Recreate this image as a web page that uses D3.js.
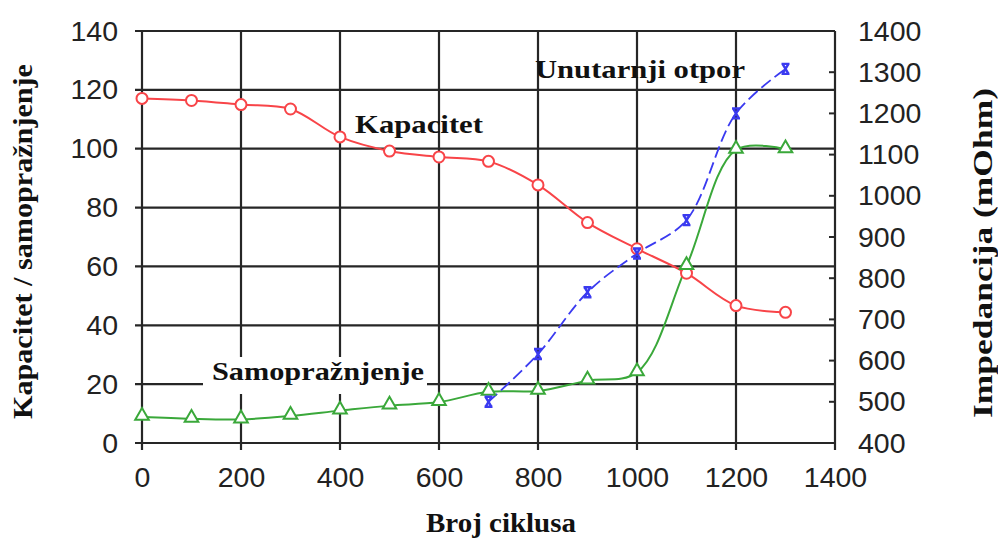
<!DOCTYPE html>
<html>
<head>
<meta charset="utf-8">
<script src="https://cdn.jsdelivr.net/npm/d3@7"></script>
<style>
  html, body { margin: 0; padding: 0; background: #fff; }
  svg { display: block; }
</style>
</head>
<body>
<script>
// ---- data ----
const cycles = [0, 100, 200, 300, 400, 500, 600, 700, 800, 900, 1000, 1100, 1200, 1300];
const kapacitet = [117.1, 116.4, 115.0, 113.5, 104.0, 99.2, 97.2, 95.7, 87.7, 74.9, 66.0, 57.7, 46.7, 44.4];
const samopraznjenje = [8.9, 8.2, 8.0, 9.2, 11.0, 12.7, 13.9, 17.4, 17.7, 21.2, 24.0, 60.1, 99.6, 99.8];
const otporCycles = [700, 800, 900, 1000, 1100, 1200, 1300];
const otpor = [500, 616, 766, 860, 941, 1200, 1308];
const xTicks = [0, 200, 400, 600, 800, 1000, 1200, 1400];
const yLeftTicks = [0, 20, 40, 60, 80, 100, 120, 140];
const yRightTicks = [400, 500, 600, 700, 800, 900, 1000, 1100, 1200, 1300, 1400];
const seriesLabels = { kap: "Kapacitet", samo: "Samopražnjenje", otpor: "Unutarnji otpor" };
const axisTitles = { x: "Broj ciklusa", yl: "Kapacitet / samopražnjenje", yr: "Impedancija (mOhm)" };

// ---- layout ----
const W = 998, H = 540;
const svg = d3.select("body").append("svg").attr("width", W).attr("height", H);

const x = d3.scaleLinear().domain([0, 1400]).range([142, 835]);
const yL = d3.scaleLinear().domain([0, 140]).range([443, 31]);
const yR = d3.scaleLinear().domain([400, 1400]).range([443, 31]);

const gridColor = "#262626";
const tickFont = "'Liberation Sans', Arial, sans-serif";
const serif = "'Liberation Serif', 'Times New Roman', serif";
const fmt = d3.format("d");

// gridlines
const grid = svg.append("g");
grid.selectAll("line.h").data(yLeftTicks).join("line")
  .attr("x1", x(0) - 7).attr("x2", x(1400))
  .attr("y1", d => yL(d)).attr("y2", d => yL(d))
  .attr("stroke", gridColor).attr("stroke-width", 2.2);
grid.selectAll("line.v").data(xTicks).join("line")
  .attr("x1", d => x(d)).attr("x2", d => x(d))
  .attr("y1", yL(140)).attr("y2", yL(0) + 7)
  .attr("stroke", gridColor).attr("stroke-width", 2.2);
// right axis minor ticks (inside)
grid.selectAll("line.r").data(yRightTicks).join("line")
  .attr("x1", x(1400) - 6).attr("x2", x(1400))
  .attr("y1", d => yR(d)).attr("y2", d => yR(d))
  .attr("stroke", gridColor).attr("stroke-width", 2);

// axes (labels only)
function styleAxis(g) {
  g.select(".domain").remove();
  g.selectAll(".tick line").remove();
  g.selectAll("text").attr("font-family", tickFont).attr("font-size", 28.5).attr("fill", "#222");
}
svg.append("g").attr("transform", `translate(${x(0)},0)`)
  .call(d3.axisLeft(yL).tickValues(yLeftTicks).tickFormat(fmt).tickSize(0).tickPadding(24))
  .call(styleAxis);
svg.append("g").attr("transform", `translate(0,${yL(0)})`)
  .call(d3.axisBottom(x).tickValues(xTicks).tickFormat(fmt).tickSize(0).tickPadding(24))
  .call(styleAxis);
svg.append("g").attr("transform", `translate(${x(1400)},0)`)
  .call(d3.axisRight(yR).tickValues(yRightTicks).tickFormat(fmt).tickSize(0).tickPadding(23))
  .call(styleAxis);

// Samopražnjenje label box (masks grid)
svg.append("rect").attr("x", 203).attr("y", 357).attr("width", 224).attr("height", 37).attr("fill", "#fff");

// series
const curve = d3.curveCatmullRom.alpha(0.5);
const kapData = cycles.map((c, i) => [c, kapacitet[i]]);
const samoData = cycles.map((c, i) => [c, samopraznjenje[i]]);
const otporData = otporCycles.map((c, i) => [c, otpor[i]]);

const red = "#f84448", green = "#3aa83a", blue = "#3a3af0";

svg.append("path").datum(samoData)
  .attr("d", d3.line().x(d => x(d[0])).y(d => yL(d[1])).curve(curve))
  .attr("fill", "none").attr("stroke", green).attr("stroke-width", 2);
svg.append("path").datum(kapData)
  .attr("d", d3.line().x(d => x(d[0])).y(d => yL(d[1])).curve(curve))
  .attr("fill", "none").attr("stroke", red).attr("stroke-width", 2);
svg.append("path").datum(otporData)
  .attr("d", d3.line().x(d => x(d[0])).y(d => yR(d[1])).curve(curve))
  .attr("fill", "none").attr("stroke", blue).attr("stroke-width", 1.8)
  .attr("stroke-dasharray", "12,5");

// markers
svg.selectAll("circle.k").data(kapData).join("circle")
  .attr("cx", d => x(d[0])).attr("cy", d => yL(d[1])).attr("r", 5.5)
  .attr("fill", "#fff").attr("stroke", red).attr("stroke-width", 2);
const tri = d3.symbol().type(d3.symbolTriangle).size(80);
svg.selectAll("path.s").data(samoData).join("path")
  .attr("d", tri).attr("transform", d => `translate(${x(d[0])},${yL(d[1]) - 1})`)
  .attr("fill", "#fff").attr("stroke", green).attr("stroke-width", 2);
svg.selectAll("path.o").data(otporData).join("path")
  .attr("d", "M-4,-5H4M-4,5H4M-3,-5L3,5M3,-5L-3,5")
  .attr("transform", d => `translate(${x(d[0])},${yR(d[1])})`)
  .attr("fill", "none").attr("stroke", blue).attr("stroke-width", 2.4);

// in-plot labels
function label(txt, px, py, len) {
  svg.append("text").text(txt).attr("x", px).attr("y", py)
    .attr("font-family", serif).attr("font-weight", "bold").attr("font-size", 26)
    .attr("fill", "#111").attr("textLength", len).attr("lengthAdjust", "spacingAndGlyphs");
}
label(seriesLabels.kap, 355, 133, 128);
label(seriesLabels.otpor, 535, 78, 210);
label(seriesLabels.samo, 212, 380, 212);

// axis titles
svg.append("text").text(axisTitles.x).attr("x", 426).attr("y", 532)
  .attr("font-family", serif).attr("font-weight", "bold").attr("font-size", 27)
  .attr("fill", "#111").attr("textLength", 150).attr("lengthAdjust", "spacingAndGlyphs");
svg.append("text").text(axisTitles.yl)
  .attr("transform", "translate(32,419) rotate(-90)")
  .attr("font-family", serif).attr("font-weight", "bold").attr("font-size", 27)
  .attr("fill", "#111").attr("textLength", 355).attr("lengthAdjust", "spacingAndGlyphs");
svg.append("text").text(axisTitles.yr)
  .attr("transform", "translate(992,418) rotate(-90)")
  .attr("font-family", serif).attr("font-weight", "bold").attr("font-size", 27)
  .attr("fill", "#111").attr("textLength", 330).attr("lengthAdjust", "spacingAndGlyphs");
</script>
</body>
</html>
